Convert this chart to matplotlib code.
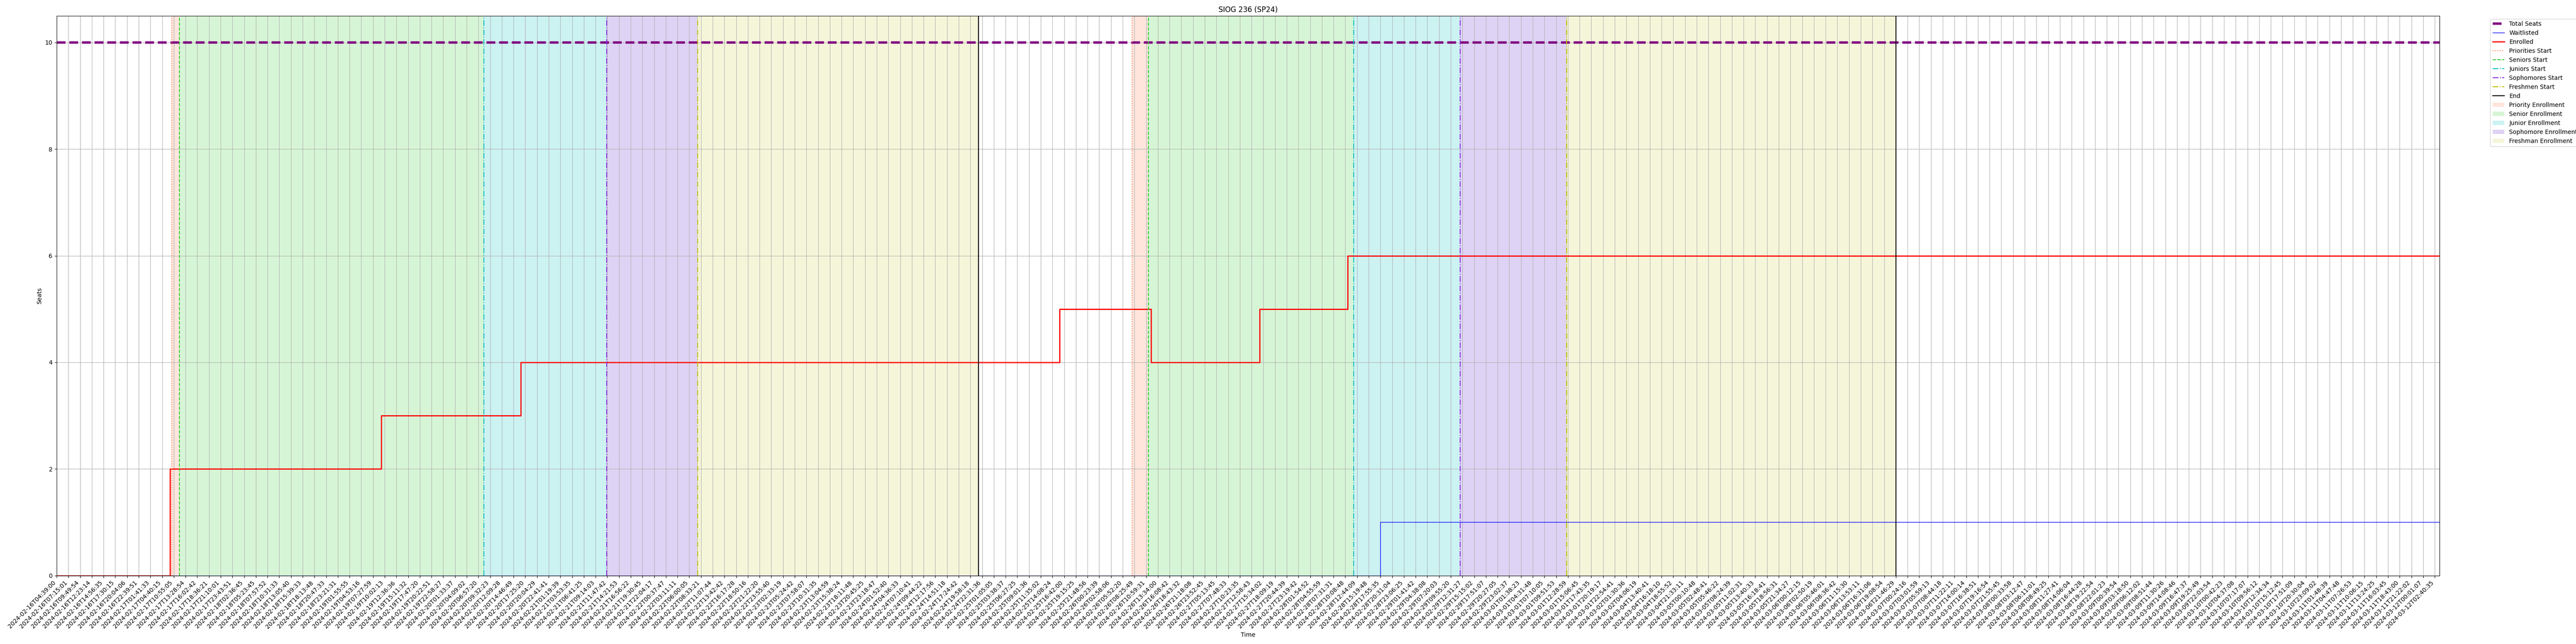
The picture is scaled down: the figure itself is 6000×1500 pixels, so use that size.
import matplotlib
matplotlib.use("Agg")
import matplotlib.pyplot as plt

# snapshot timestamps (one tick per scrape)
snapshots = [
    "2024-02-16T04:39:00", "2024-02-16T07:15:01", "2024-02-16T09:49:54", "2024-02-16T12:23:14",
    "2024-02-16T14:56:35", "2024-02-16T17:30:15", "2024-02-16T20:04:06", "2024-02-16T22:39:51",
    "2024-02-17T01:41:33", "2024-02-17T04:40:15", "2024-02-17T10:55:05", "2024-02-17T13:28:54",
    "2024-02-17T16:02:42", "2024-02-17T18:36:21", "2024-02-17T21:10:01", "2024-02-17T23:43:51",
    "2024-02-18T02:36:45", "2024-02-18T05:23:45", "2024-02-18T07:57:52", "2024-02-18T10:31:33",
    "2024-02-18T13:05:40", "2024-02-18T15:39:33", "2024-02-18T18:13:48", "2024-02-18T20:47:33",
    "2024-02-18T23:21:31", "2024-02-19T01:55:55", "2024-02-19T04:53:16", "2024-02-19T07:27:59",
    "2024-02-19T10:02:13", "2024-02-19T12:36:36", "2024-02-19T15:11:32", "2024-02-19T17:47:20",
    "2024-02-19T20:22:51", "2024-02-19T22:58:27", "2024-02-20T01:33:37", "2024-02-20T04:09:02",
    "2024-02-20T06:57:20", "2024-02-20T09:32:23", "2024-02-20T12:09:28", "2024-02-20T14:46:49",
    "2024-02-20T17:25:20", "2024-02-20T20:04:29", "2024-02-20T22:41:41", "2024-02-21T01:19:39",
    "2024-02-21T03:53:35", "2024-02-21T06:41:25", "2024-02-21T09:14:03", "2024-02-21T11:47:42",
    "2024-02-21T14:21:53", "2024-02-21T16:56:22", "2024-02-21T19:30:45", "2024-02-21T22:04:17",
    "2024-02-22T00:37:47", "2024-02-22T03:11:11", "2024-02-22T06:00:05", "2024-02-22T08:33:21",
    "2024-02-22T11:07:44", "2024-02-22T13:42:42", "2024-02-22T16:17:28", "2024-02-22T18:50:16",
    "2024-02-22T21:22:20", "2024-02-22T23:55:40", "2024-02-23T02:33:19", "2024-02-23T05:24:42",
    "2024-02-23T07:58:07", "2024-02-23T10:31:35", "2024-02-23T13:04:59", "2024-02-23T15:38:24",
    "2024-02-23T18:11:48", "2024-02-23T20:45:25", "2024-02-23T23:18:47", "2024-02-24T01:52:40",
    "2024-02-24T04:36:33", "2024-02-24T07:10:41", "2024-02-24T09:44:22", "2024-02-24T12:17:56",
    "2024-02-24T14:51:18", "2024-02-24T17:24:42", "2024-02-24T19:58:18", "2024-02-24T22:31:36",
    "2024-02-25T01:05:05", "2024-02-25T03:38:37", "2024-02-25T06:27:25", "2024-02-25T09:01:36",
    "2024-02-25T11:35:02", "2024-02-25T14:08:24", "2024-02-25T16:42:00", "2024-02-25T19:15:25",
    "2024-02-25T21:48:56", "2024-02-26T00:23:39", "2024-02-26T02:58:06", "2024-02-26T05:52:20",
    "2024-02-26T08:25:49", "2024-02-26T10:59:31", "2024-02-26T13:34:00", "2024-02-26T16:08:42",
    "2024-02-26T18:43:32", "2024-02-26T21:18:08", "2024-02-26T23:52:45", "2024-02-27T05:13:45",
    "2024-02-27T07:48:33", "2024-02-27T10:23:35", "2024-02-27T12:58:43", "2024-02-27T15:34:02",
    "2024-02-27T18:09:19", "2024-02-27T20:44:39", "2024-02-27T23:19:42", "2024-02-28T01:54:52",
    "2024-02-28T04:55:59", "2024-02-28T07:31:31", "2024-02-28T10:08:48", "2024-02-28T12:44:09",
    "2024-02-28T15:19:48", "2024-02-28T17:55:35", "2024-02-28T20:31:04", "2024-02-28T23:06:25",
    "2024-02-29T01:41:42", "2024-02-29T04:38:08", "2024-02-29T07:20:03", "2024-02-29T09:55:20",
    "2024-02-29T12:31:27", "2024-02-29T15:15:02", "2024-02-29T17:51:07", "2024-02-29T20:27:05",
    "2024-02-29T23:02:37", "2024-03-01T01:38:23", "2024-03-01T04:31:48", "2024-03-01T07:10:05",
    "2024-03-01T09:51:53", "2024-03-01T12:28:59", "2024-03-01T15:06:45", "2024-03-01T17:43:35",
    "2024-03-01T20:19:17", "2024-03-01T22:54:41", "2024-03-02T01:30:36", "2024-03-02T04:06:19",
    "2024-03-04T13:40:41", "2024-03-04T16:18:10", "2024-03-04T18:55:52", "2024-03-04T21:33:11",
    "2024-03-05T00:10:48", "2024-03-05T02:48:41", "2024-03-05T05:46:22", "2024-03-05T08:24:39",
    "2024-03-05T11:02:31", "2024-03-05T13:40:33", "2024-03-05T16:18:41", "2024-03-05T18:56:31",
    "2024-03-05T21:34:27", "2024-03-06T00:12:15", "2024-03-06T02:50:19", "2024-03-06T05:46:01",
    "2024-03-06T08:36:42", "2024-03-06T11:15:30", "2024-03-06T13:53:11", "2024-03-06T16:31:06",
    "2024-03-06T19:08:54", "2024-03-06T21:46:29", "2024-03-07T00:24:16", "2024-03-07T03:01:59",
    "2024-03-07T05:59:13", "2024-03-07T08:44:18", "2024-03-07T11:22:11", "2024-03-07T14:00:14",
    "2024-03-07T16:38:51", "2024-03-07T19:16:54", "2024-03-07T21:55:45", "2024-03-08T00:33:58",
    "2024-03-08T03:12:47", "2024-03-08T06:11:01", "2024-03-08T08:49:25", "2024-03-08T11:27:41",
    "2024-03-08T14:06:04", "2024-03-08T16:44:28", "2024-03-08T19:22:54", "2024-03-08T22:01:23",
    "2024-03-09T00:39:54", "2024-03-09T03:18:50", "2024-03-09T06:12:02", "2024-03-09T08:51:44",
    "2024-03-09T11:30:26", "2024-03-09T14:08:46", "2024-03-09T16:47:37", "2024-03-09T19:25:49",
    "2024-03-09T22:03:54", "2024-03-10T00:42:23", "2024-03-10T04:37:08", "2024-03-10T07:17:07",
    "2024-03-10T09:56:12", "2024-03-10T12:34:34", "2024-03-10T15:12:45", "2024-03-10T17:51:09",
    "2024-03-10T20:30:04", "2024-03-10T23:09:02", "2024-03-11T01:48:39", "2024-03-11T04:47:48",
    "2024-03-11T07:26:53", "2024-03-11T10:06:15", "2024-03-11T13:24:25", "2024-03-11T16:03:45",
    "2024-03-11T18:43:00", "2024-03-11T21:22:02", "2024-03-12T00:01:07", "2024-03-12T02:40:35",
]

total_seats = 10

# positions are in snapshot-index units (fractional = between two scrapes)
timeline_end = 203.4
enrolled_change_at = [0, 9.68, 27.7, 39.6, 85.6, 93.4, 102.7, 110.2]
enrolled_counts = [0, 2, 3, 4, 5, 4, 5, 6]
waitlist_change_at = [0, 113.0]
waitlist_counts = [0, 1]

# two registration passes
priorities_start = [9.82, 91.8]
seniors_start = [10.48, 93.2]
juniors_start = [36.45, 110.7]
sophomores_start = [46.96, 119.8]
freshmen_start = [54.7, 128.9]
enrollment_end = [78.7, 157.0]

fig = plt.figure(figsize=(60, 15), dpi=100)
ax = fig.add_axes([0.022, 0.1063, 0.925, 0.8692])

ax.plot([0, timeline_end], [total_seats, total_seats], color='purple', linestyle='--',
        linewidth=4, label='Total Seats')
ax.step(waitlist_change_at + [timeline_end], waitlist_counts + [waitlist_counts[-1]],
        where='post', color='blue', linewidth=1, label='Waitlisted')
ax.step(enrolled_change_at + [timeline_end], enrolled_counts + [enrolled_counts[-1]],
        where='post', color='red', linewidth=2, label='Enrolled')

starts = [
    ('Priorities Start', priorities_start, 'coral', ':'),
    ('Seniors Start', seniors_start, 'limegreen', '--'),
    ('Juniors Start', juniors_start, 'c', '-.'),
    ('Sophomores Start', sophomores_start, 'blueviolet', '-.'),
    ('Freshmen Start', freshmen_start, 'y', '-.'),
]
for name, xs, col, ls in starts:
    for i, x in enumerate(xs):
        ax.axvline(x, color=col, linestyle=ls, linewidth=1.5, label=name if i == 0 else None)
for i, x in enumerate(enrollment_end):
    ax.axvline(x, color='black', linewidth=1.5, label='End' if i == 0 else None)

windows = [
    ('Priority Enrollment', priorities_start, seniors_start, 'coral', 0.2),
    ('Senior Enrollment', seniors_start, juniors_start, 'limegreen', 0.2),
    ('Junior Enrollment', juniors_start, sophomores_start, 'c', 0.2),
    ('Sophomore Enrollment', sophomores_start, freshmen_start, 'mediumpurple', 0.3),
    ('Freshman Enrollment', freshmen_start, enrollment_end, 'y', 0.15),
]
for name, a, b, col, alpha in windows:
    for i in range(len(a)):
        ax.axvspan(a[i], b[i], color=col, alpha=alpha, linewidth=0,
                   label=name if i == 0 else None)

ax.set_xticks(range(len(snapshots)))
ax.set_xticklabels(snapshots, rotation=45, ha='right')
ax.set_xlim(0, timeline_end)
ax.set_ylim(0, 10.5)
ax.set_yticks([0, 2, 4, 6, 8, 10])
ax.grid(True)

ax.set_title('SIOG 236 (SP24)')
ax.set_xlabel('Time')
ax.set_ylabel('Seats')
ax.legend(bbox_to_anchor=(1.02, 1), loc='upper left')

fig.savefig('out.png')
